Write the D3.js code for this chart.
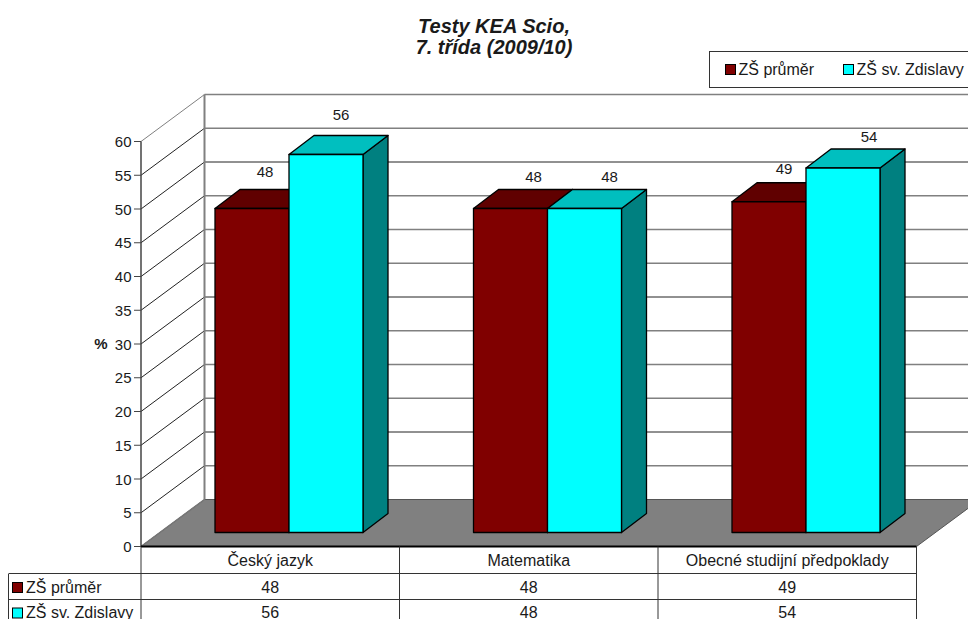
<!DOCTYPE html>
<html><head><meta charset="utf-8">
<script src="https://cdn.jsdelivr.net/npm/d3@7/dist/d3.min.js"></script>
<style>html,body{margin:0;padding:0;background:#fff;overflow:hidden}svg{display:block}text{font-family:"Liberation Sans",Arial,sans-serif;fill:#1a1a1a}</style>
</head><body><svg id="c" width="968" height="619"></svg>
<script>
const categories = ["Český jazyk","Matematika","Obecné studijní předpoklady"];
const seriesNames = ["ZŠ průměr","ZŠ sv. Zdislavy"];
const prumer = [48,48,49];
const zdislavy = [56,48,54];
const yTicks = d3.range(0,61,5);
const titleLines = ["Testy KEA Scio,","7. třída (2009/10)"];

const svg = d3.select("#c");
const y = d3.scaleLinear([0,60],[546.5,141.5]);
const x0 = d3.scaleBand(categories,[141,916.5]);
const x1 = d3.scaleBand([0,1],[74,222]);
const D = {x:63.5,y:-47};
const B = {x:19,y:-14,dx:25,dy:-19};
const poly = pts => pts.map(p=>p.join(",")).join(" ");
const R = 916.5;

// floor
svg.append("polygon").attr("points",poly([[141,y(0)],[141+D.x,y(0)+D.y],[R+D.x,y(0)+D.y],[R,y(0)]]))
  .attr("fill","#808080").attr("stroke","#555").attr("stroke-width",1);

// walls
const gridStyle = v => (v%20===10 ? {c:"#222",w:1} : {c:"#808080",w:1.4});
yTicks.forEach(v=>{
  if(v>0){
    const s=gridStyle(v);
    svg.append("line").attr("x1",141+D.x).attr("x2",R+D.x).attr("y1",y(v)+D.y).attr("y2",y(v)+D.y)
      .attr("stroke",s.c).attr("stroke-width",s.w);
    svg.append("line").attr("x1",141).attr("x2",141+D.x).attr("y1",y(v)).attr("y2",y(v)+D.y)
      .attr("stroke",v===60?"#808080":"#222").attr("stroke-width",1);
  }
});
svg.append("line").attr("x1",141+D.x).attr("x2",141+D.x).attr("y1",y(60)+D.y).attr("y2",y(0)+D.y)
  .attr("stroke","#808080").attr("stroke-width",2);
svg.append("line").attr("x1",141).attr("x2",141+D.x).attr("y1",y(0)).attr("y2",y(0)+D.y)
  .attr("stroke","#777").attr("stroke-width",1.5);

// bars
const barSeries = [
 {vals:prumer,front:"#800000",top:"#600000",side:"#600000"},
 {vals:zdislavy,front:"#00ffff",top:"#00bfbf",side:"#008080"}];
const labelNudge = [[[13,-37],[23,-32],[15,-33]],[[15,-40],[25,-32],[26,-32]]];
const base = y(0)+B.y;
const h = v => y(0)-y(v);
categories.forEach((c,ci)=>{
  barSeries.forEach((s,si)=>{
    const v=s.vals[ci];
    const xl=x0(c)+x1(si), xr=xl+x1.bandwidth(), t=base-h(v);
    const g=svg.append("g").attr("stroke","#000").attr("stroke-width",1.3).attr("stroke-linejoin","round");
    g.append("polygon").attr("points",poly([[xr,t],[xr+B.dx,t+B.dy],[xr+B.dx,base+B.dy],[xr,base]])).attr("fill",s.side);
    g.append("polygon").attr("points",poly([[xl,t],[xl+B.dx,t+B.dy],[xr+B.dx,t+B.dy],[xr,t]])).attr("fill",s.top);
    g.append("rect").attr("x",xl).attr("y",t).attr("width",xr-xl).attr("height",base-t).attr("fill",s.front);
  });
});
categories.forEach((c,ci)=>{
  barSeries.forEach((s,si)=>{
    const v=s.vals[ci], xc=x0(c)+x1(si)+x1.bandwidth()/2, t=base-h(v), n=labelNudge[si][ci];
    svg.append("text").attr("x",xc+n[0]).attr("y",t+n[1]+5.5).attr("text-anchor","middle").attr("font-size",15).text(v);
  });
});

// y axis
svg.append("line").attr("x1",141).attr("x2",141).attr("y1",y(60)).attr("y2",y(0)).attr("stroke","#444").attr("stroke-width",1.5);
yTicks.forEach(v=>{
  svg.append("line").attr("x1",134).attr("x2",141).attr("y1",y(v)).attr("y2",y(v)).attr("stroke","#444").attr("stroke-width",1);
  svg.append("text").attr("x",131.5).attr("y",y(v)+5.5).attr("text-anchor","end").attr("font-size",15).text(v);
});
svg.append("text").attr("x",101).attr("y",349).attr("text-anchor","middle").attr("font-size",15).attr("font-weight","bold").text("%");

// data table
const rowY=[573.5,599.5];
const tl="#333";
svg.append("line").attr("x1",141).attr("x2",R).attr("y1",y(0)).attr("y2",y(0)).attr("stroke","#000").attr("stroke-width",2);
rowY.forEach(ry=>svg.append("line").attr("x1",9).attr("x2",R).attr("y1",ry).attr("y2",ry).attr("stroke",tl).attr("stroke-width",1));
svg.append("line").attr("x1",8.5).attr("x2",8.5).attr("y1",rowY[0]).attr("y2",619).attr("stroke",tl);
[...categories.map(c=>x0(c)),R].forEach(vx=>svg.append("line").attr("x1",vx).attr("x2",vx).attr("y1",y(0)).attr("y2",619).attr("stroke",tl));
categories.forEach((c,i)=>{
  const xc=x0(c)+x0.bandwidth()/2;
  svg.append("text").attr("x",xc).attr("y",566).attr("text-anchor","middle").attr("font-size",16).text(c);
  svg.append("text").attr("x",xc).attr("y",592.5).attr("text-anchor","middle").attr("font-size",16).text(prumer[i]);
  svg.append("text").attr("x",xc).attr("y",618).attr("text-anchor","middle").attr("font-size",16).text(zdislavy[i]);
});
seriesNames.forEach((n,i)=>{
  const ty=[592.5,618][i];
  svg.append("rect").attr("x",12.5).attr("y",ty-10).attr("width",10).attr("height",10).attr("fill",barSeries[i].front).attr("stroke","#000");
  svg.append("text").attr("x",26).attr("y",ty).attr("font-size",16).text(n);
});

// legend
svg.append("rect").attr("x",709.5).attr("y",51.5).attr("width",300).attr("height",36).attr("fill","#fff").attr("stroke","#333");
[725.5,843.5].forEach((lx,i)=>{
  svg.append("rect").attr("x",lx).attr("y",64.5).attr("width",10).attr("height",10).attr("fill",barSeries[i].front).attr("stroke","#000");
  svg.append("text").attr("x",lx+13).attr("y",75).attr("font-size",16).text(seriesNames[i]);
});

// title
titleLines.forEach((t,i)=>svg.append("text").attr("x",494).attr("y",[33,54][i]).attr("text-anchor","middle")
  .attr("font-size",20).attr("font-weight","bold").attr("font-style","italic").text(t));
</script></body></html>
